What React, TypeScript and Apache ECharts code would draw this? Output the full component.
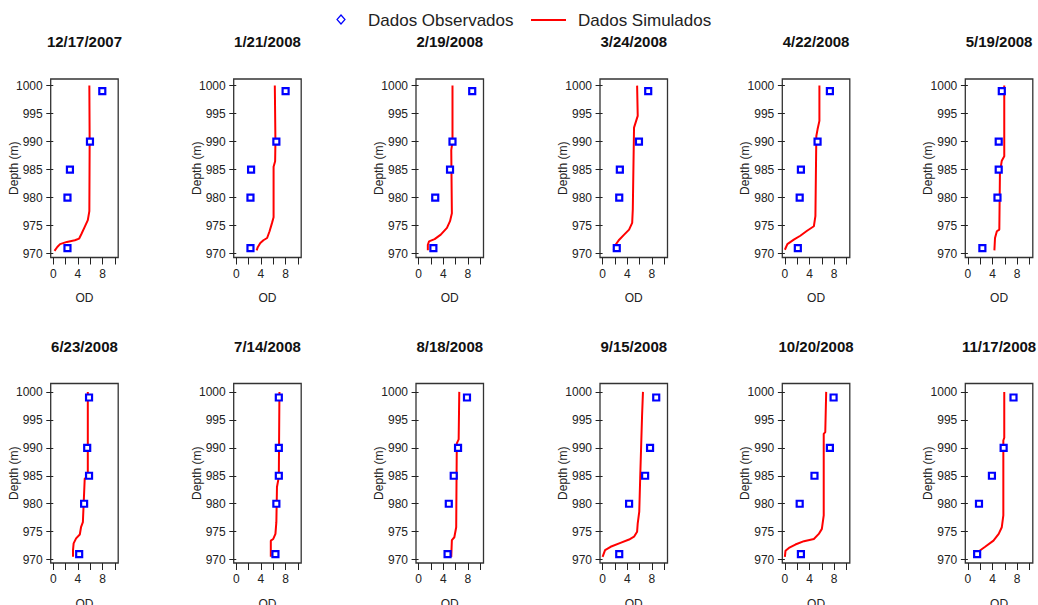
import React, { useEffect, useRef } from "react";
import * as echarts from "echarts";

const titles = ["12/17/2007", "1/21/2008", "2/19/2008", "3/24/2008", "4/22/2008", "5/19/2008",
  "6/23/2008", "7/14/2008", "8/18/2008", "9/15/2008", "10/20/2008", "11/17/2008"];

const obsDepths = [999, 990, 985, 980, 971];

const obsOD1 = [7.95, 5.95, 2.7, 2.3, 2.3];
const obsOD2 = [8.0, 6.5, 2.4, 2.3, 2.3];
const obsOD3 = [8.7, 5.5, 5.1, 2.7, 2.4];
const obsOD4 = [7.4, 5.9, 2.8, 2.7, 2.3];
const obsOD5 = [7.3, 5.3, 2.6, 2.4, 2.1];
const obsOD6 = [5.5, 5.0, 5.0, 4.8, 2.35];
const obsOD7 = [5.8, 5.5, 5.8, 5.0, 4.2];
const obsOD8 = [6.9, 6.9, 6.9, 6.5, 6.35];
const obsOD9 = [7.85, 6.4, 5.7, 4.9, 4.7];
const obsOD10 = [8.7, 7.7, 6.9, 4.3, 2.7];
const obsOD11 = [7.9, 7.3, 4.8, 2.4, 2.6];
const obsOD12 = [7.4, 5.8, 3.9, 1.8, 1.5];
const obsOD = [obsOD1, obsOD2, obsOD3, obsOD4, obsOD5, obsOD6, obsOD7, obsOD8, obsOD9, obsOD10, obsOD11, obsOD12];

// simulated profiles: [OD, depth]
const sim1 = [[5.85, 1000], [5.9, 990], [5.85, 977.6], [5.6, 976], [5.1, 974.8], [4.6, 973.6], [4.2, 972.7], [3.5, 972.4], [2.2, 972.1], [1.1, 971.7], [0.65, 971.2], [0.2, 970.5]];
const sim2 = [[6.25, 1000], [6.35, 990], [6.3, 986.5], [6.05, 985.5], [6.05, 976.5], [5.8, 975.5], [5.4, 974], [5.0, 972.8], [4.4, 972.4], [3.9, 971.9], [3.5, 971.2], [3.3, 970.6]];
const sim3 = [[5.5, 1000], [5.5, 990], [5.3, 988.5], [5.4, 977.2], [5.1, 975.8], [4.6, 974.6], [3.6, 973.4], [2.6, 972.6], [1.7, 972.2], [1.5, 971.6], [1.5, 970.6]];
const sim4 = [[5.6, 1000], [5.7, 994.6], [5.1, 992.5], [4.9, 977.9], [4.8, 975.5], [4.3, 974.3], [3.5, 973.4], [2.7, 972.5], [2.1, 971.6], [1.8, 970.6]];
const sim5 = [[5.6, 1000], [5.6, 993.7], [5.3, 992.2], [5.1, 991], [4.95, 976.7], [4.7, 974.9], [3.6, 974.1], [2.5, 973.2], [1.45, 972.5], [0.4, 971.7], [0, 970.7]];
const sim6 = [[5.9, 1000], [5.9, 987.4], [5.5, 986.6], [5.2, 984.5], [5.1, 974.3], [4.7, 974], [4.4, 972.8], [4.3, 970.6]];
const sim7 = [[5.6, 1000], [5.6, 984.8], [5.1, 984.5], [4.8, 976.7], [4.5, 975.8], [4.3, 974.5], [3.7, 973.8], [3.3, 972.9], [3.2, 971.7], [3.2, 970.5]];
const sim8 = [[7.0, 1000], [6.9, 984.8], [6.6, 983], [6.5, 976.7], [6.35, 974.6], [6.0, 973.7], [5.6, 973.4], [5.6, 970.5]];
const sim9 = [[6.6, 1000], [6.5, 991.5], [6.2, 990.8], [6.1, 975.8], [5.8, 974], [5.4, 973.5], [5.3, 970.5]];
const sim10 = [[6.55, 1000], [6.4, 995.6], [6.1, 984.6], [5.95, 978.6], [5.7, 976.5], [5.6, 975], [5.1, 974.1], [4.3, 973.6], [2.9, 973], [1.3, 972.3], [0.4, 971.7], [0, 970.5]];
const sim11 = [[6.7, 1000], [6.55, 992.8], [6.3, 992.5], [6.3, 977.9], [6.0, 975.5], [5.5, 974.6], [4.7, 973.7], [3.1, 973.3], [1.7, 972.7], [0.65, 972.1], [0.1, 971.6], [0, 970.5]];
const sim12 = [[5.9, 1000], [5.9, 991.8], [5.75, 991.3], [5.75, 977.9], [5.5, 975.8], [5.0, 974.6], [4.15, 973.4], [2.8, 972.3], [1.9, 971.6], [1.6, 970.5]];
const sims = [sim1, sim2, sim3, sim4, sim5, sim6, sim7, sim8, sim9, sim10, sim11, sim12];

const xTicks = [0, 2, 4, 6, 8, 10];
const xLabels = [0, 4, 8];
const yTicks = [970, 975, 980, 985, 990, 995, 1000];

const FONT = "Liberation Sans, Arial, sans-serif";

export default function App() {
  const ref = useRef<HTMLDivElement>(null);
  useEffect(() => {
    if (!ref.current) return;
    const chart = echarts.init(ref.current, null, { renderer: "svg" });
    const lefts = [50.7, 233.7, 416, 600, 782.3, 965.3];
    const tops = [79, 383.5];
    const heights = [178.5, 179.5];
    const yMin = [969.32, 969.4];
    const yMax = [1001.18, 1001.5];
    const odGap = [34, 35];
    const W = 67.5;

    const grid: any[] = [];
    const xAxis: any[] = [];
    const yAxis: any[] = [];
    const series: any[] = [];
    const graphic: any[] = [];

    for (let i = 0; i < 12; i++) {
      const r = Math.floor(i / 6);
      const c = i % 6;
      grid.push({
        left: lefts[c], top: tops[r], width: W, height: heights[r],
        show: true, borderColor: "#333", borderWidth: 1.3, backgroundColor: "transparent",
        containLabel: false, outerBoundsMode: "none",
      });
      xAxis.push({
        type: "value", gridIndex: i, min: -0.42, max: 10.53,
        name: "OD", nameLocation: "middle", nameGap: odGap[r], nameMoveOverlap: false,
        nameTextStyle: { fontFamily: FONT, fontSize: 12, color: "#222" },
        axisLine: { show: false },
        splitLine: { show: false },
        axisTick: { show: true, length: 7, lineStyle: { color: "#222", width: 1 }, customValues: xTicks },
        axisLabel: { fontFamily: FONT, fontSize: 12, color: "#222", margin: 10, customValues: xLabels,
          formatter: (v: number) => String(v) },
      });
      yAxis.push({
        type: "value", gridIndex: i, min: yMin[r], max: yMax[r],
        name: "Depth (m)", nameLocation: "middle", nameGap: 31, nameMoveOverlap: false,
        nameTextStyle: { fontFamily: FONT, fontSize: 12, color: "#222" },
        axisLine: { show: false },
        splitLine: { show: false },
        axisTick: { show: true, length: 7, lineStyle: { color: "#222", width: 1 }, customValues: yTicks },
        axisLabel: { fontFamily: FONT, fontSize: 12, color: "#222", margin: 8, customValues: yTicks,
          formatter: (v: number) => String(v) },
      });
      series.push({
        name: "Dados Simulados", type: "line", xAxisIndex: i, yAxisIndex: i,
        data: sims[i], showSymbol: false, symbol: "none",
        lineStyle: { color: "#ff0000", width: 2 }, z: 2,
      });
      series.push({
        name: "Dados Observados", type: "scatter", xAxisIndex: i, yAxisIndex: i,
        data: obsOD[i].map((v, k) => [v, obsDepths[k]]),
        symbol: "rect", symbolSize: 6,
        itemStyle: { color: "#ffffff", borderColor: "#0000ff", borderWidth: 2.2, opacity: 1 },
        z: 3,
      });
      graphic.push({
        type: "text", x: lefts[c] + W / 2, y: r === 0 ? 41 : 346,
        style: {
          text: titles[i], fontFamily: FONT, fontSize: 15, fontWeight: "bold", fill: "#111",
          textAlign: "center", textVerticalAlign: "middle",
        },
      });
    }

    graphic.push({
      type: "polygon",
      shape: { points: [[341, 15], [345, 19.5], [341, 24], [337, 19.5]] },
      style: { fill: "none", stroke: "#0000ff", lineWidth: 1.2 },
    });
    graphic.push({
      type: "text", x: 368, y: 20,
      style: { text: "Dados Observados", fontFamily: FONT, fontSize: 17, fill: "#222", textAlign: "left", textVerticalAlign: "middle" },
    });
    graphic.push({
      type: "line", shape: { x1: 531, y1: 20, x2: 566, y2: 20 },
      style: { stroke: "#ff0000", lineWidth: 2 },
    });
    graphic.push({
      type: "text", x: 578, y: 20,
      style: { text: "Dados Simulados", fontFamily: FONT, fontSize: 17, fill: "#222", textAlign: "left", textVerticalAlign: "middle" },
    });

    chart.setOption({
      animation: false,
      backgroundColor: "#ffffff",
      grid, xAxis, yAxis, series, graphic,
    });
    return () => chart.dispose();
  }, []);
  return <div ref={ref} style={{ position: "absolute", left: 0, top: 0, width: 1038, height: 605 }} />;
}
